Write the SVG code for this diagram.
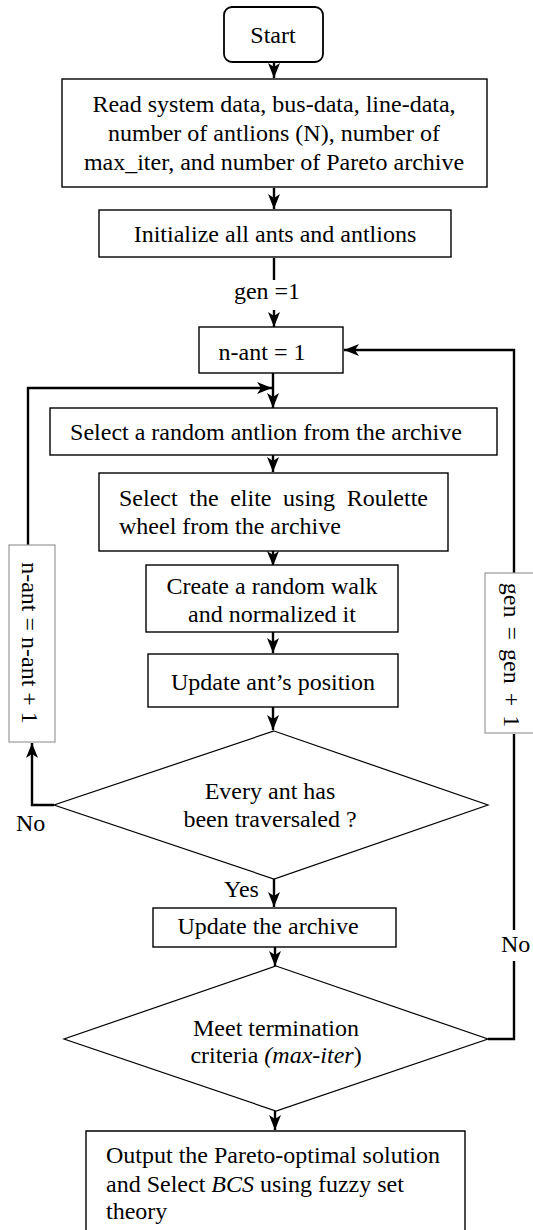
<svg xmlns="http://www.w3.org/2000/svg" width="533" height="1230" viewBox="0 0 533 1230">
<defs>
<marker id="arr" markerUnits="userSpaceOnUse" markerWidth="16" markerHeight="14" refX="15" refY="6" orient="auto">
<path d="M0,0 L15,6 L0,12 L4,6 z" fill="#000"/>
</marker>
<style>
text{font-family:"Liberation Serif","Times New Roman",serif;font-size:24px;fill:#000}
.c{text-anchor:middle}
.box{fill:#fff;stroke:#000;stroke-width:1.4}
.lbl{fill:#fff;stroke:#999;stroke-width:1.2}
.dia{fill:#fff;stroke:#000;stroke-width:1.2}
.ln{fill:none;stroke:#000;stroke-width:2.4}
.ar{marker-end:url(#arr)}
</style>
</defs>
<rect width="533" height="1230" fill="#fff"/>
<g id="connectors">
<path class="ln ar" d="M274,62 V78"/>
<path class="ln ar" d="M274,188 V209"/>
<path class="ln" d="M274,258 V280"/>
<path class="ln ar" d="M274,310 V327"/>
<path class="ln ar" d="M273,373 V408"/>
<path class="ln ar" d="M28,545 V388 H272"/>
<path class="ln ar" d="M273,455 V472"/>
<path class="ln ar" d="M273,551 V566"/>
<path class="ln ar" d="M273,632 V653"/>
<path class="ln ar" d="M273,707 V730"/>
<path class="ln ar" d="M54,805 H32 V743"/>
<path class="ln ar" d="M274,879 V907"/>
<path class="ln ar" d="M275,947 V966"/>
<path class="ln ar" d="M275,1111 V1130"/>
<path class="ln" d="M488,1039 H514 V961"/>
<path class="ln" d="M514,930 V734"/>
<path class="ln ar" d="M514,573 V350 H344"/>
</g>
<g id="start">
<rect x="224" y="7" width="99" height="55" rx="8" fill="#fff" stroke="#000" stroke-width="1.8"/>
<text class="c" x="273" y="43">Start</text>
</g>
<g id="read">
<rect class="box" x="62" y="79" width="425" height="108"/>
<text class="c" x="274" y="112">Read system data, bus-data, line-data,</text>
<text class="c" x="274" y="141">number of antlions (N), number of</text>
<text class="c" x="274" y="170">max_iter, and number of Pareto archive</text>
</g>
<g id="init">
<rect class="box" x="99" y="210" width="352" height="47"/>
<text class="c" x="275" y="242">Initialize all ants and antlions</text>
</g>
<g id="gen1">
<text class="c" x="267" y="299">gen =1</text>
</g>
<g id="nant1">
<rect class="box" x="199" y="327" width="144" height="46"/>
<text class="c" x="262" y="360">n-ant = 1</text>
</g>
<g id="selrand">
<rect class="box" x="50" y="408" width="447" height="47"/>
<text class="c" x="266" y="440">Select a random antlion from the archive</text>
</g>
<g id="elite">
<rect class="box" x="99" y="473" width="349" height="78"/>
<text x="119" y="506" word-spacing="5.6">Select the elite using Roulette</text>
<text x="119" y="534">wheel from the archive</text>
</g>
<g id="walk">
<rect class="box" x="146" y="565" width="252" height="67"/>
<text class="c" x="272" y="594">Create a random walk</text>
<text class="c" x="272" y="622">and normalized it</text>
</g>
<g id="updpos">
<rect class="box" x="148" y="654" width="250" height="53"/>
<text class="c" x="273" y="690">Update ant’s position</text>
</g>
<g id="every">
<polygon class="dia" points="274,731 488,805 274,879 54,805"/>
<text class="c" x="270" y="799">Every ant has</text>
<text class="c" x="270" y="827">been traversaled ?</text>
</g>
<g id="nantinc">
<rect class="lbl" x="9" y="545" width="46" height="197"/>
<text class="c" transform="translate(30,643) rotate(90)" y="8">n-ant = n-ant + 1</text>
</g>
<g id="geninc">
<rect class="lbl" x="485" y="573" width="58" height="160"/>
<text class="c" transform="translate(512,655) rotate(90)" y="8" word-spacing="3">gen = gen + 1</text>
</g>
<g id="labels">
<text x="16" y="831">No</text>
<text x="224" y="897">Yes</text>
<text x="501" y="952">No</text>
</g>
<g id="updarch">
<rect class="box" x="153" y="908" width="243" height="39"/>
<text class="c" x="268" y="934">Update the archive</text>
</g>
<g id="meet">
<polygon class="dia" points="276,966 488,1039 276,1111 64,1039"/>
<text class="c" x="276" y="1036">Meet termination</text>
<text class="c" x="276" y="1063">criteria <tspan font-style="italic">(max-iter</tspan>)</text>
</g>
<g id="output">
<path class="box" d="M86,1240 V1131 H465 V1240"/>
<text x="106" y="1163">Output the Pareto-optimal solution</text>
<text x="106" y="1192">and Select <tspan font-style="italic">BCS</tspan> using fuzzy set</text>
<text x="106" y="1219">theory</text>
</g>
</svg>
